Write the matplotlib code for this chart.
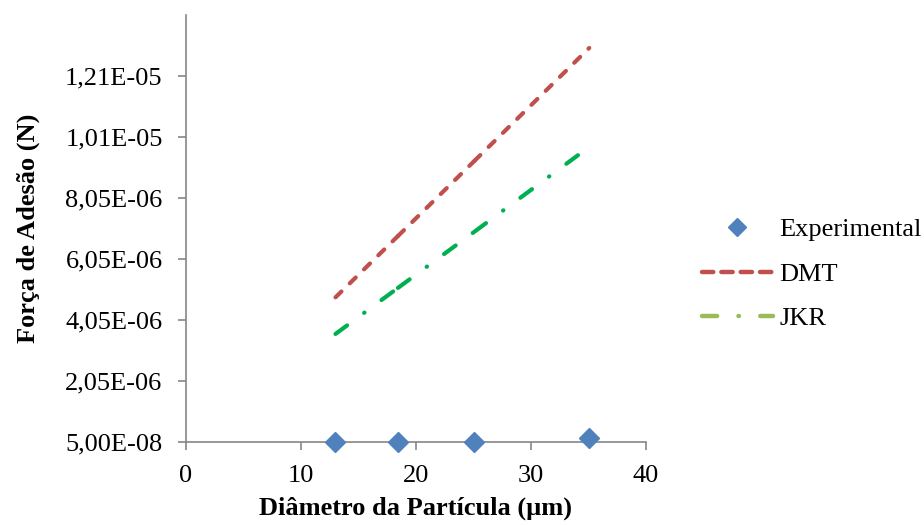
import matplotlib
matplotlib.use('Agg')
import matplotlib.pyplot as plt
from matplotlib.lines import Line2D

plt.rcParams['font.family'] = ['Liberation Serif', 'DejaVu Serif']

# data (diameter in um, force in N)
diametro = [13.03, 18.46, 25.1, 35.08]
experimental = [5.0e-8, 5.0e-8, 5.0e-8, 2.0e-7]
dmt = [4.80e-6, 6.81e-6, 9.27e-6, 12.97e-6]
jkr = [3.60e-6, 5.11e-6, 6.95e-6, 9.73e-6]
yticks = [5.0e-8, 2.05e-6, 4.05e-6, 6.05e-6, 8.05e-6, 1.005e-5, 1.205e-5]
ytick_labels = ['5,00E-08', '2,05E-06', '4,05E-06', '6,05E-06',
                '8,05E-06', '1,01E-05', '1,21E-05']

c_exp = '#4F81BD'
c_dmt = '#C0504D'
c_jkr = '#00B050'
c_jkr_leg = '#9BBB59'
gray = '#868686'
fs = 19

dash_dmt = (2.0, 2.8)
dash_jkr = (3.46, 5.08, 0.1, 5.08)

fig = plt.figure(figsize=(9.24, 5.25), dpi=100)
ax = fig.add_axes([0.2008, 0.1575, 0.4982, 0.8139])

# Excel restarts the dash pattern at every data point, so draw segment by segment
for i in range(len(diametro) - 1):
    ax.plot(diametro[i:i + 2], dmt[i:i + 2], color=c_dmt, lw=3,
            dashes=dash_dmt, dash_capstyle='round', zorder=2)
    ax.plot(diametro[i:i + 2], jkr[i:i + 2], color=c_jkr, lw=3,
            dashes=dash_jkr, dash_capstyle='round', zorder=2)
ax.plot(diametro, experimental, linestyle='none', marker='D', ms=10,
        color=c_exp, clip_on=False, zorder=3)

ax.set_xlim(0, 40)
ax.set_ylim(5.0e-8, 1.405e-5)
ax.set_xticks([0, 10, 20, 30, 40])
ax.set_yticks(yticks)
ax.set_yticklabels(ytick_labels)

for s in ['top', 'right']:
    ax.spines[s].set_visible(False)
for s in ['left', 'bottom']:
    ax.spines[s].set_color(gray)
    ax.spines[s].set_linewidth(1.2)
ax.tick_params(axis='both', colors=gray, labelcolor='black', labelsize=fs,
               length=5.5, width=1.2, direction='out')
ax.tick_params(axis='y', pad=11)
ax.tick_params(axis='x', pad=10.5)

ax.set_xlabel('Diâmetro da Partícula (µm)', fontsize=fs, fontweight='bold')
ax.set_ylabel('Força de Adesão (N)', fontsize=fs, fontweight='bold')
ax.xaxis.set_label_coords(0.5, -0.127)
ax.yaxis.set_label_coords(-0.316, 0.5)

handles = [
    Line2D([], [], linestyle='none', marker='D', ms=9.5, color=c_exp),
    Line2D([], [], color=c_dmt, lw=3.2, dashes=(2.55, 1.8), dash_capstyle='round'),
    Line2D([], [], color=c_jkr_leg, lw=3.2, dashes=(3.4, 4.8, 0.1, 4.8),
           dash_capstyle='round'),
]
fig.legend(handles, ['Experimental', 'DMT', 'JKR'], loc='center left',
           bbox_to_anchor=(0.7597, 0.478), frameon=False, fontsize=fs,
           handlelength=2.69, handletextpad=0.23, labelspacing=0.79,
           borderpad=0, borderaxespad=0)

plt.savefig('out.png', dpi=100)
